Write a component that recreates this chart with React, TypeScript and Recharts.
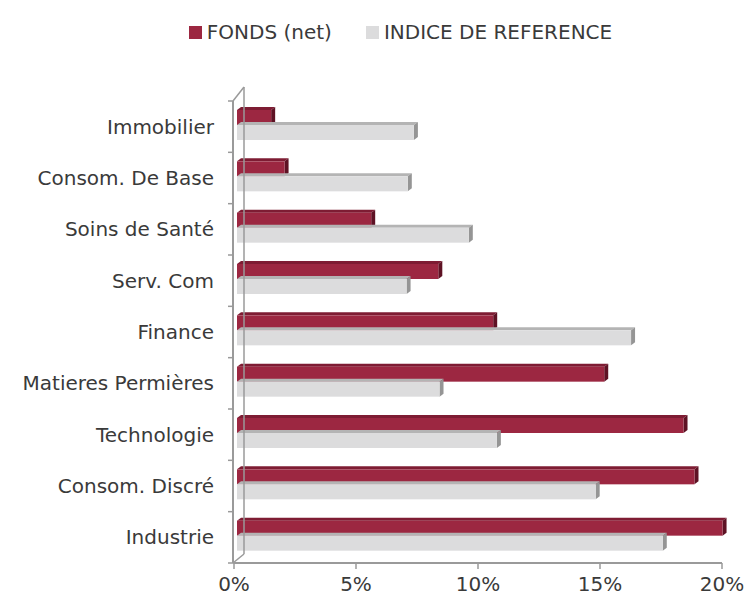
import { BarChart, Bar, XAxis, YAxis, ReferenceLine } from 'recharts';

const categories = [
  'Immobilier',
  'Consom. De Base',
  'Soins de Santé',
  'Serv. Com',
  'Finance',
  'Matieres Permières',
  'Technologie',
  'Consom. Discré',
  'Industrie',
];
const fonds = [1.4, 1.95, 5.5, 8.25, 10.5, 15.05, 18.3, 18.75, 19.9];
const indice = [7.25, 7.0, 9.5, 6.95, 16.15, 8.3, 10.65, 14.7, 17.45];
const xTicks = [0, 5, 10, 15, 20];
const seriesNames = { fonds: 'FONDS (net)', indice: 'INDICE DE REFERENCE' };

const data = categories.map((name, i) => ({ name, fonds: fonds[i], indice: indice[i] }));

const W = 749;
const H = 597;
const X_AXIS_H = 34;
const M = { top: 101, right: 27, bottom: 0, left: 0 };
const AXIS_W = 234;
const BAND = (H - M.top - X_AXIS_H) / categories.length;
const FONT = '"DejaVu Sans", sans-serif';
const TEXT = '#3a3a3a';
const AXIS = '#9a9a9a';

const RED = { front: '#9c2741', top: '#7e1c33', side: '#5e1224' };
const GREY = { front: '#dcdcdd', top: '#b4b4b4', side: '#959595' };

function bar3d(c: { front: string; top: string; side: string }) {
  return (props: any) => {
    const { x, y, width, height } = props;
    if (!width || width <= 0) return <g />;
    const d = 4;
    const fx = x + 3;
    const fy = y - 2;
    const r = fx + width;
    return (
      <g>
        <polygon points={`${fx},${fy} ${fx + d},${fy - 3} ${r + d},${fy - 3} ${r},${fy}`} fill={c.top} />
        <polygon points={`${r},${fy} ${r + d},${fy - 3} ${r + d},${fy + height - 3} ${r},${fy + height}`} fill={c.side} />
        <rect x={fx} y={fy} width={width} height={height} fill={c.front} />
      </g>
    );
  };
}

function CategoryTick(props: any) {
  const { x, y, payload, index } = props;
  const ax = AXIS_W;
  return (
    <g>
      <line x1={ax - 6} x2={ax} y1={y - BAND / 2} y2={y - BAND / 2} stroke={AXIS} strokeWidth={1.5} />
      {index === categories.length - 1 && (
        <line x1={ax - 6} x2={ax} y1={y + BAND / 2} y2={y + BAND / 2} stroke={AXIS} strokeWidth={1.5} />
      )}
      <text x={x} y={y} dy={7} textAnchor="end" fill={TEXT} fontSize={20} fontFamily={FONT}>
        {payload.value}
      </text>
    </g>
  );
}

function WallShape(props: any) {
  const { x1, y1, y2 } = props;
  const bx = x1 + 10;
  return (
    <g stroke={AXIS} fill="none">
      <line x1={x1 - 1} y1={y1} x2={x1 - 1} y2={y2} strokeWidth={2} />
      <line x1={x1 - 1} y1={y1} x2={bx} y2={y1 - 9} strokeWidth={1.5} />
      <line x1={bx} y1={y1 - 9} x2={bx} y2={y2 - 14} strokeWidth={1.5} />
      <line x1={bx} y1={y2 - 14} x2={x1 - 1} y2={y2} strokeWidth={1.5} />
    </g>
  );
}

function LegendBox() {
  const items = [
    { label: seriesNames.fonds, color: RED.front },
    { label: seriesNames.indice, color: GREY.front },
  ];
  return (
    <div
      style={{
        position: 'absolute',
        top: 20,
        left: 0,
        width: W,
        display: 'flex',
        justifyContent: 'center',
        gap: 34,
        fontFamily: FONT,
        fontSize: 20,
        color: TEXT,
        paddingLeft: 52,
        boxSizing: 'border-box',
      }}
    >
      {items.map((it) => (
        <div key={it.label} style={{ display: 'flex', alignItems: 'center', gap: 5 }}>
          <span style={{ width: 13, height: 13, background: it.color, display: 'inline-block' }} />
          <span>{it.label}</span>
        </div>
      ))}
    </div>
  );
}

export default function App() {
  return (
    <div style={{ position: 'absolute', left: 0, top: 0, width: W, height: H, background: '#fff' }}>
      <LegendBox />
      <BarChart
        width={W}
        height={H}
        data={data}
        layout="vertical"
        margin={M}
        barCategoryGap="19%"
        barGap={0}
      >
        <XAxis
          type="number"
          domain={[0, 20]}
          ticks={xTicks}
          tickFormatter={(v) => `${v}%`}
          axisLine={{ stroke: AXIS, strokeWidth: 2 }}
          tickLine={{ stroke: AXIS, strokeWidth: 1.5 }}
          tickSize={6}
          tickMargin={8}
          tick={{ fill: TEXT, fontSize: 20, fontFamily: FONT }}
          height={X_AXIS_H}
        />
        <YAxis
          type="category"
          dataKey="name"
          width={AXIS_W}
          axisLine={false}
          tickLine={false}
          tickMargin={14}
          tick={<CategoryTick />}
        />
        <ReferenceLine x={0} shape={<WallShape />} />
        <Bar dataKey="fonds" name={seriesNames.fonds} barSize={15} shape={bar3d(RED)} isAnimationActive={false} />
        <Bar dataKey="indice" name={seriesNames.indice} barSize={15} shape={bar3d(GREY)} isAnimationActive={false} />
      </BarChart>
    </div>
  );
}
